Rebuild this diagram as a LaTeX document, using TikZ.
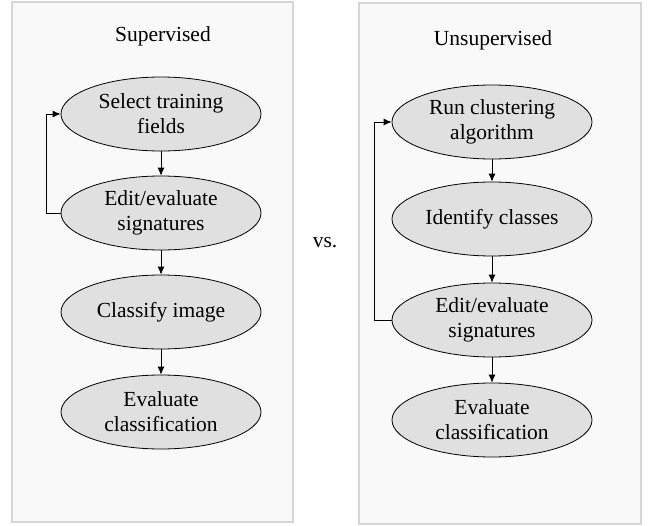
\documentclass[tikz,border=0pt]{standalone}
\usepackage{fontspec}
\setmainfont{Liberation Serif}
\usetikzlibrary{arrows.meta}
\usetikzlibrary{shapes.geometric}

\definecolor{panelfill}{HTML}{F9F9F9}
\definecolor{paneldraw}{HTML}{D6D6D6}
\definecolor{stagefill}{HTML}{E0E0E0}

\tikzset{
  panel/.style={draw=paneldraw,fill=panelfill,line width=1.2pt},
  stage/.style={ellipse,draw=black,fill=stagefill,line width=0.8pt,
    minimum width=200pt,minimum height=74pt,inner sep=0pt,align=center,
    font=\fontsize{21.5}{25}\selectfont},
  heading/.style={anchor=base,font=\fontsize{21.5}{25}\selectfont},
  flow/.style={-{Latex[length=8pt,width=7pt]},line width=0.8pt}
}

\begin{document}
\begin{tikzpicture}[x=1pt,y=-1pt]
      \useasboundingbox (0,0) rectangle (656,525);
      \draw[panel] (12,2) rectangle (293,522);
      \draw[panel] (359,3) rectangle (641,524);

      \node[heading] (sup) at (163,41) {Supervised};
      \node[heading] (uns) at (493,45) {Unsupervised};
      \node[heading] (vs) at (325,247) {vs.};

      \node[stage] (s-1) at (161,114) {Select training\\fields};
      \node[stage] (s-2) at (161,213) {Edit/evaluate\\signatures};
      \node[stage] (s-3) at (161,312) {Classify image};
      \node[stage] (s-4) at (161,412) {Evaluate\\classification};

      \node[stage] (u-1) at (492,122) {Run clustering\\algorithm};
      \node[stage] (u-2) at (492,219) {Identify classes};
      \node[stage] (u-3) at (492,320) {Edit/evaluate\\signatures};
      \node[stage] (u-4) at (492,420) {Evaluate\\classification};

      \path[flow] (s-1) edge (s-2);
      \path[flow] (s-2) edge (s-3);
      \path[flow] (s-3) edge (s-4);
      \draw[flow] (s-2.west) -- ++(-14,0) |- (s-1.west);

      \path[flow] (u-1) edge (u-2);
      \path[flow] (u-2) edge (u-3);
      \path[flow] (u-3) edge (u-4);
      \draw[flow] (u-3.west) -- ++(-17,0) |- (u-1.west);
    \end{tikzpicture}
\end{document}
